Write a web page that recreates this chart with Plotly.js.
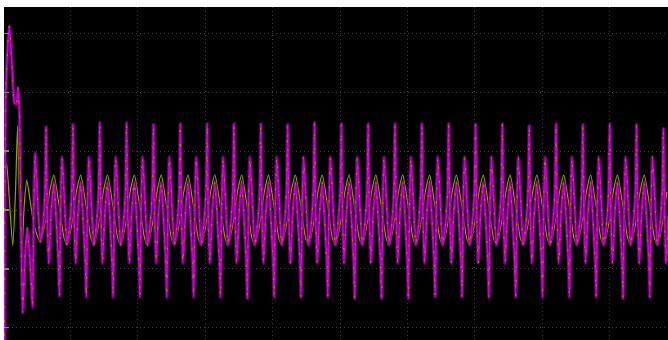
<!DOCTYPE html>
<html>
<head>
<meta charset="utf-8">
<script src="https://cdn.plot.ly/plotly-3.0.1.min.js"></script>
<style>html,body{margin:0;padding:0;background:#fff;}#chart{width:668px;height:340px;}</style>
</head>
<body>
<div id="chart"></div>
<script>
// ---- Data (time in ms, 5 ms/div; amplitude in V, 100 V/div) ----
// Start-up transient, channel A (magenta)
const magTransientMs = [0.111, 0.208, 0.467, 0.668, 0.853, 0.987, 1.113, 1.224, 1.335, 1.461, 1.632, 1.795, 1.966, 2.114, 2.196, 2.263, 2.381, 2.559, 2.774, 2.982, 3.116];
const magTransientV  = [-238, 209, 313, 243, 182, 180, 208, 157, -34, -174, -77, -31, -77, -136, -165, -9, 97, 20, -54, -20, 34];
// Start-up transient, channel B (yellow)
const yelTransientMs = [0.096, 0.260, 0.445, 0.720, 0.927, 1.076, 1.202, 1.387, 1.573, 1.766, 2.003, 2.300, 2.737, 3.004];
const yelTransientV  = [51, 80, 26, -60, 34, 143, 34, -77, 9, 51, 17, -26, -54, -34];

// Steady state: time of each tall positive spike (one per cycle)
const cycleSpikeMs = [3.190, 5.181, 7.172, 9.163, 11.154, 13.146, 15.137, 17.128, 19.119, 21.110, 23.101, 25.092,
                      27.083, 29.074, 31.065, 33.057, 35.048, 37.039, 39.030, 41.021, 43.012, 45.003, 46.994, 48.985];
const topSpikeV = [141, 145, 148, 148, 145, 146, 146, 146, 146, 145, 148, 146, 146, 146, 146, 146, 145, 146, 143, 146, 145, 146, 145, 138];
const botSpikeV = [-146, -148, -148, -148, -148, -148, -148, -150, -148, -148, -148, -150, -150, -150, -148, -148, -148, -148, -148, -148, -148, -150, -148, -148];

// One steady-state cycle of channel A (offset from the positive spike)
const magCycleOffMs = [0.000, 0.074, 0.200, 0.371, 0.571, 0.764, 0.920, 0.994, 1.068, 1.180, 1.358, 1.550, 1.766, 1.914];
const magCycleV     = [null, 8.5, -90, -8.5, 47.6, -20.4, -88.4, null, -8.5, 90.1, 17, -59.5, -20.4, 34];
// One steady-state cycle of channel B
const yelCycleOffMs = [0.000, 0.260, 0.579, 0.853, 1.076, 1.335, 1.573, 1.803];
const yelCycleV     = [-13.6, 30.6, 59.5, 25.5, -8.5, -47.6, -59.5, -37.4];

const TOP_IDX = 0, BOT_IDX = 7, T_MAX = 49.45;

function buildMag() {
  const t = magTransientMs.slice(), v = magTransientV.slice();
  cycleSpikeMs.forEach((t0, k) => {
    magCycleOffMs.forEach((off, j) => {
      const tt = t0 + off;
      if (tt > T_MAX) return;
      t.push(tt);
      v.push(j === TOP_IDX ? topSpikeV[k] : (j === BOT_IDX ? botSpikeV[k] : magCycleV[j]));
    });
  });
  return {t, v};
}
function buildYel() {
  const t = yelTransientMs.slice(), v = yelTransientV.slice();
  cycleSpikeMs.forEach((t0) => {
    yelCycleOffMs.forEach((off, j) => {
      const tt = t0 + off;
      if (tt > T_MAX) return;
      t.push(tt); v.push(yelCycleV[j]);
    });
  });
  return {t, v};
}
const mag = buildMag(), yel = buildYel();

const traces = [
  {x: yel.t, y: yel.v, mode: 'lines', line: {color: '#9c9c00', width: 1.2, shape: 'spline', smoothing: 0.6}, hoverinfo: 'skip'},
  {x: mag.t, y: mag.v, mode: 'lines', line: {color: 'rgba(120,0,120,0.8)', width: 3.6, shape: 'spline', smoothing: 0.6}, hoverinfo: 'skip'},
  {x: mag.t, y: mag.v, mode: 'lines', line: {color: '#c800c8', width: 1.6, shape: 'spline', smoothing: 0.6}, hoverinfo: 'skip'},
  {x: mag.t, y: mag.v, mode: 'lines', line: {color: '#b86a48', width: 1.2, shape: 'spline', smoothing: 0.6, dash: '2px,12px'}, hoverinfo: 'skip'}
];

const layout = {
  width: 668, height: 340,
  margin: {l: 4, r: 0, t: 7, b: 0, pad: 0},
  paper_bgcolor: '#ffffff', plot_bgcolor: '#000000',
  showlegend: false,
  xaxis: {range: [0.07, 49.33], tick0: 0, dtick: 5, showgrid: true, gridcolor: '#3c3c3c', griddash: '1px,3px', gridwidth: 1,
          zeroline: false, showticklabels: false, ticks: '', showline: false, fixedrange: true},
  yaxis: {range: [-221, 345.2], tick0: 0, dtick: 100, showgrid: true, gridcolor: '#3c3c3c', griddash: '1px,3px', gridwidth: 1,
          zeroline: false, showticklabels: false, ticks: 'inside', ticklen: 5, tickcolor: '#8a8a8a', tickwidth: 1.5,
          showline: false, fixedrange: true}
};
Plotly.newPlot('chart', traces, layout, {displayModeBar: false, staticPlot: true});
</script>
</body>
</html>
